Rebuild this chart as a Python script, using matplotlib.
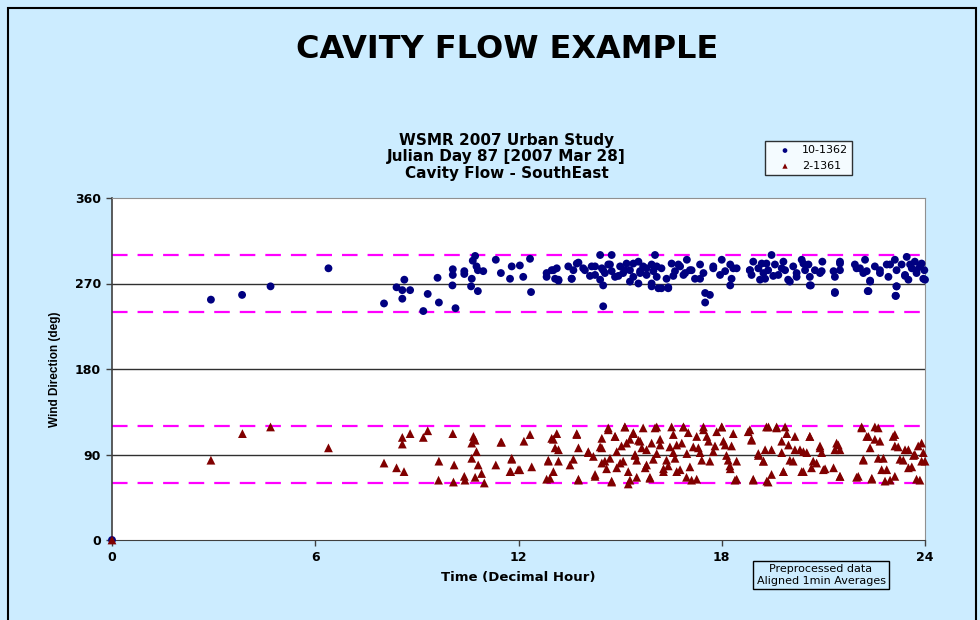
#!/usr/bin/env python

import matplotlib
matplotlib.use('Agg')
import matplotlib.pyplot as plt
from matplotlib.patches import Rectangle

plt.rcParams['font.family'] = ['DejaVu Sans']

# 10-1362 (hour, wind direction)
blue_hr = [0, 2.92, 3.84, 4.68, 6.39, 8.03, 8.4, 8.63, 8.57, 8.8, 8.57, 9.19, 9.32, 9.61, 9.65,
           10.06, 10.06, 10.05, 10.14, 10.4, 10.4, 10.62, 10.6, 10.72, 10.65, 10.76, 10.8, 10.96,
           10.8, 11.33, 11.48, 11.75, 11.8, 12.04, 12.34, 12.14, 12.37,
           12.83, 12.98, 13.13, 13.08, 13.18, 13.47, 13.62, 13.72, 13.57, 13.91, 14.16, 14.26,
           14.41, 14.75, 14.46, 14.55, 14.5, 14.5, 14.65, 14.75, 14.85, 15.0, 15.09, 15.19, 15.29,
           15.39, 15.54, 15.59, 15.54, 15.68, 15.78, 15.93, 16.03, 15.98, 15.93, 16.13, 16.08,
           16.22, 16.37, 16.42, 16.52, 16.62, 16.77, 16.87, 16.97, 17.06, 17.21, 17.36, 17.46,
           17.51, 17.65, 17.51, 17.75, 18.0, 18.1, 18.25, 18.29,
           18.44, 18.83, 18.93, 18.88, 19.08, 19.18, 19.28, 19.47, 19.37, 19.57, 19.67, 19.82,
           19.87, 19.96, 20.11, 20.21, 20.36, 20.46, 20.56, 20.6, 20.63, 20.75, 20.97, 20.95, 21.3,
           21.34, 21.34, 21.49, 21.49, 21.93, 22.08, 22.23, 22.28, 22.38, 22.31, 22.52, 22.67,
           22.87, 22.92, 23.11, 23.16, 23.16, 23.13, 23.31, 23.41, 23.46, 23.51, 23.61, 23.7,
           23.75, 23.85, 23.95, 23.98,
           12.83, 13.03, 13.18, 13.57, 13.77, 13.96, 14.11, 14.26, 14.41, 14.5, 14.7, 14.95, 15.14,
           15.29, 15.39, 15.59, 15.78, 15.93, 16.08, 16.22, 16.42, 16.57, 16.72, 16.92, 17.11,
           17.36, 17.75, 17.95, 18.25, 18.34, 18.83, 19.13, 19.23, 19.32, 19.52, 19.77, 20.01,
           20.21, 20.41, 20.6, 20.9, 21.34, 21.49, 21.98, 22.18, 22.33, 22.38, 22.67, 22.97,
           23.14, 23.16, 23.41, 23.56, 23.75, 23.9, 24.0]
blue_deg = [0, 253, 258, 267, 286, 249, 266, 274, 263, 263, 254, 241, 259, 276, 250,
            285, 279, 268, 244, 283, 280, 275, 267, 299, 294, 288, 284, 283,
            262, 295, 281, 275, 288, 289, 296, 277, 261,
            277, 284, 286, 275, 273, 288, 284, 291, 275, 286, 288, 279,
            300, 300, 286, 281, 268, 246, 290, 283, 277, 288, 281, 291, 284,
            277, 293, 283, 270, 288, 279, 290, 300, 283, 267, 265, 277,
            286, 275, 266, 291, 283, 288, 279, 295, 284, 275, 290, 281,
            260, 258, 250, 286, 295, 283, 290, 275,
            286, 284, 293, 279, 286, 291, 275, 300, 284, 290, 279, 293,
            284, 274, 288, 277, 295, 284, 290, 277, 268, 284, 293, 283, 283,
            277, 260, 293, 284, 290, 286, 295, 283, 273, 262, 288, 281,
            290, 277, 295, 284, 267, 257, 290, 279, 298, 274, 286, 293,
            281, 288, 275, 284,
            281, 284, 274, 275, 292, 284, 278, 288, 274, 284, 290, 278, 284,
            272, 291, 281, 286, 270, 288, 265, 265, 278, 290, 281, 284,
            275, 288, 279, 268, 286, 284, 274, 281, 291, 278, 286, 272,
            281, 291, 268, 281, 261, 291, 286, 281, 262, 272, 284, 290,
            257, 267, 278, 290, 284, 291, 274]

# 2-1361 (hour, wind direction)
red_hr = [0, 2.92, 3.85, 4.68, 6.39, 8.03, 8.4, 8.62, 8.57, 8.8, 8.57, 9.19, 9.32, 9.64, 9.65,
          10.06, 10.08, 10.1, 10.4, 10.42, 10.62, 10.67, 10.72, 10.62, 10.76, 10.81, 10.91, 10.72,
          10.99, 11.33, 11.48, 11.77, 11.8, 11.99,
          11.5, 11.8, 11.75, 12.04, 12.16, 12.34, 12.39, 12.88, 12.93, 13.03, 13.13, 13.18, 13.18,
          13.52, 13.72, 13.77, 13.77, 14.06, 14.21, 14.26, 14.41, 14.46, 14.6, 14.65, 14.75, 14.85,
          14.9, 15.0, 15.14, 15.19, 15.24, 15.29, 15.39, 15.44, 15.49, 15.54, 15.64, 15.68, 15.78,
          15.88, 15.93, 16.03, 16.08, 16.18, 16.28, 16.37, 16.47, 16.57, 16.62, 16.67, 16.82,
          16.87, 16.97, 17.06, 17.11, 17.26, 17.31, 17.41, 17.46, 17.61, 17.75, 17.85, 18.0, 18.1,
          18.19, 18.25, 18.34, 18.39, 18.78, 18.88, 18.93, 19.08, 19.23, 19.32, 19.37, 19.47,
          19.62, 19.77, 19.82, 19.92, 20.01, 20.16, 20.36, 20.41, 20.6, 20.7, 20.9, 21.05, 21.39,
          21.49, 21.49, 22.13, 22.18, 22.28, 22.38, 22.62, 22.67, 22.77, 22.87, 22.97, 23.11,
          23.21, 23.36, 23.51, 23.61, 23.7, 23.85, 23.9, 24.0, 22.03, 22.43,
          12.98, 13.08, 12.88, 13.03, 12.83, 13.72, 13.62, 13.77, 14.06, 14.26, 14.46, 14.46,
          14.55, 14.65, 14.7, 14.75, 14.85, 14.9, 15.04, 15.09, 15.14, 15.24, 15.29, 15.39, 15.44,
          15.49, 15.59, 15.74, 15.78, 15.88, 15.98, 16.08, 16.18, 16.28, 16.42, 16.52, 16.57,
          16.67, 16.77, 16.87, 16.96, 17.01, 17.16, 17.26, 17.36, 17.46, 17.56, 17.65, 17.8, 18.0,
          18.05, 18.14, 18.24, 18.29,
          18.44, 18.44, 18.83, 18.88, 18.93, 19.08, 19.28, 19.23, 19.33, 19.38, 19.47, 19.62,
          19.77, 19.82, 19.87, 19.97, 20.11, 20.16, 20.31, 20.41, 20.51, 20.6, 20.65, 20.8, 20.9,
          20.95, 21.0, 21.3, 21.34, 21.44, 21.49, 21.98, 22.13, 22.18, 22.33, 22.43, 22.52, 22.52,
          22.62, 22.72, 22.82, 23.06, 23.11, 23.11, 23.26, 23.41, 23.51, 23.66, 23.75, 23.8, 23.9,
          23.95]
red_deg = [0, 84, 112, 119, 97, 81, 76, 72, 108, 112, 101, 108, 115, 63, 83,
           112, 61, 79, 67, 63, 102, 109, 105, 86, 93, 79, 70, 66,
           60, 79, 103, 72, 86, 74,
           103, 85, 72, 74, 104, 111, 77, 84, 65, 106, 112, 95, 83,
           79, 112, 97, 63, 93, 88, 67, 98, 81, 75, 118, 61, 109,
           93, 81, 119, 102, 72, 63, 112, 90, 84, 105, 97, 118, 79,
           65, 102, 118, 91, 106, 75, 84, 98, 111, 86, 72, 102,
           119, 91, 77, 63, 109, 97, 84, 116, 104, 93, 114, 119, 100,
           84, 75, 112, 63, 114, 105, 63, 91, 83, 119, 61, 95,
           118, 104, 72, 112, 84, 95, 72, 93, 109, 83, 97, 75, 102,
           67, 95, 118, 84, 109, 97, 118, 104, 86, 74, 63, 111,
           98, 84, 95, 77, 90, 63, 102, 83, 67, 65,
           107, 97, 83, 72, 64, 111, 85, 64, 92, 69, 107, 97,
           83, 116, 86, 62, 109, 76, 99, 83, 119, 59, 106, 113, 89,
           66, 104, 76, 95, 66, 85, 119, 100, 72, 78, 119, 92,
           100, 74, 119, 66, 113, 98, 64, 92, 119, 109, 83, 99, 119,
           104, 89, 78, 99,
           83, 64, 116, 106, 64, 89, 95, 83, 62, 119, 69, 119,
           92, 72, 119, 100, 83, 109, 95, 72, 92, 109, 76, 81, 99,
           92, 74, 76, 95, 100, 67, 66, 119, 85, 109, 64, 106, 119,
           86, 74, 62, 109, 99, 67, 85, 95, 76, 89, 64, 99, 83,
           92]

x_ticks = [0, 6, 12, 18, 24]
y_ticks = [0, 90, 180, 270, 360]
limit_lines = [300, 240, 120, 60]

bg = '#CCECFF'
fig = plt.figure(figsize=(9.8, 6.2), dpi=100, facecolor=bg)
ax = fig.add_axes([112/980, 80/620, 813/980, 342/620])
ax.set_facecolor('white')

# outer frame
fig.patches.append(Rectangle((8/980, -0.1), 968/980, 1.1 - 8/620, transform=fig.transFigure,
                             fill=False, edgecolor='black', linewidth=1.5))

for v in [90, 180, 270]:
    ax.axhline(v, color='#303030', linewidth=1.0, zorder=1)
for v in limit_lines:
    ax.axhline(v, color='#FF00FF', linewidth=1.6, dashes=(7, 4.5), zorder=1)

ax.scatter(blue_hr, blue_deg, marker='o', s=32, color='#000080', edgecolors='none',
           label='10-1362', zorder=3, clip_on=False)
ax.scatter(red_hr, red_deg, marker='^', s=40, color='#800000', edgecolors='none',
           label='2-1361', zorder=3, clip_on=False)

ax.set_xlim(0, 24)
ax.set_ylim(0, 360)
ax.set_xticks(x_ticks)
ax.set_yticks(y_ticks)
ax.tick_params(direction='out', length=4, width=1, labelsize=9, pad=4, color='#404040')
for lab in ax.get_xticklabels() + ax.get_yticklabels():
    lab.set_fontweight('bold')
for s in ['top', 'right']:
    ax.spines[s].set_color('#909090')
for s in ['left', 'bottom']:
    ax.spines[s].set_color('#404040')
ax.spines['left'].set_linewidth(1.2)

ax.set_xlabel('Time (Decimal Hour)', fontsize=9.5, fontweight='bold', labelpad=5)
ax.set_ylabel('Wind Direction (deg)', fontsize=8.5, fontweight='bold', labelpad=10,
              family='Liberation Sans')

fig.text(0.5175, 1 - 50/620, 'CAVITY FLOW EXAMPLE', ha='center', va='center',
         fontsize=23, fontweight='bold')
fig.text(0.517, 1 - 157/620, 'WSMR 2007 Urban Study\nJulian Day 87 [2007 Mar 28]\nCavity Flow - SouthEast',
         ha='center', va='center', fontsize=11, fontweight='bold', linespacing=1.12)

leg = ax.legend(loc='upper left', bbox_to_anchor=(765/980, 1 - 141/620),
                bbox_transform=fig.transFigure, frameon=True, fancybox=False,
                fontsize=8, handletextpad=0.1, handlelength=2.8, borderpad=0.4,
                labelspacing=0.5, markerscale=0.6, borderaxespad=0)
leg.get_frame().set_edgecolor('black')
leg.get_frame().set_linewidth(1.0)

fig.text(821/980, 1 - 575/620, 'Preprocessed data\nAligned 1min Averages', ha='center',
         va='center', fontsize=8, linespacing=1.2,
         bbox=dict(boxstyle='square,pad=0.3', facecolor=bg, edgecolor='black', linewidth=1))

plt.savefig('out.png', dpi=100, facecolor=bg)
